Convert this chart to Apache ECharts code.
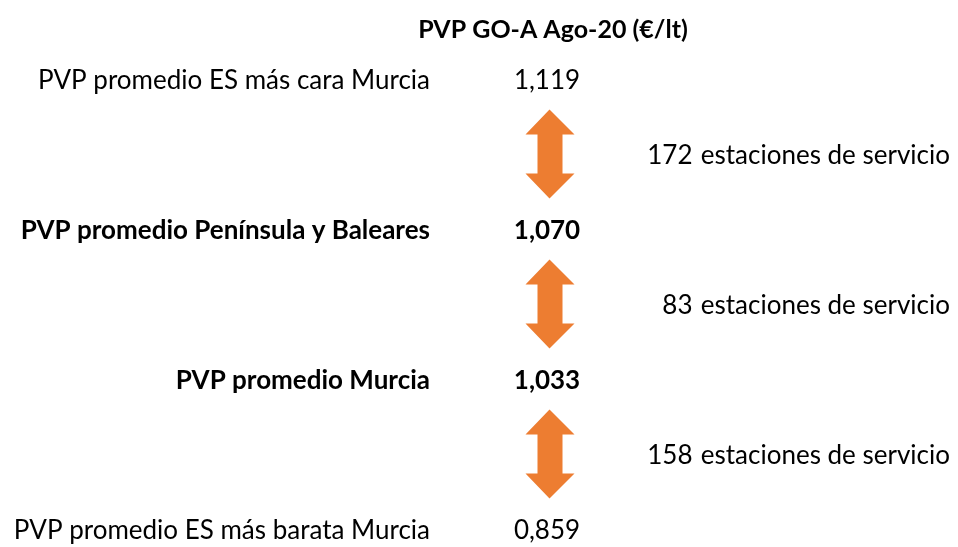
<!DOCTYPE html>
<html>
<head>
<meta charset="utf-8">
<script src="https://cdn.jsdelivr.net/npm/echarts@6/dist/echarts.min.js"></script>
<style>
html,body{margin:0;padding:0;background:#fff;}
#c{width:958px;height:547px;}
</style>
</head>
<body>
<div id="c"></div>
<script>
// ---- data ----
const chartTitle = 'PVP GO-A Ago-20 (€/lt)';
const rowLabels = [
  'PVP promedio ES más cara Murcia',
  'PVP promedio Península y Baleares',
  'PVP promedio Murcia',
  'PVP promedio ES más barata Murcia'
];
const rowBold = [false, true, true, false];
const prices = [1.119, 1.070, 1.033, 0.859];
const stations = [172, 83, 158];
const stationSuffix = 'estaciones de servicio';

// ---- layout (column anchors on a 0..958 x scale) ----
const COL_LABEL = 430, COL_VALUE = 547, COL_ARROW = 550, COL_STATIONS = 950;
const FONT = 'Lato';
const FS = 26;

const arrowPath = 'path://M24,0 L49,25 L37,25 L37,64 L49,64 L24,89 L0,64 L12,64 L12,25 L0,25 Z';

function txt(bold) {
  return { fontWeight: bold ? 'bold' : 'normal', color: '#000000', opacity: 1,
    textBorderWidth: 0, fontFamily: FONT, fontSize: FS };
}

const labelData = rowLabels.map((t, i) => ({
  value: [COL_LABEL, i], name: t, label: txt(rowBold[i])
}));
const valueData = prices.map((v, i) => ({
  value: [COL_VALUE, i], name: v.toFixed(3).replace('.', ','), label: txt(rowBold[i])
}));
const arrowData = stations.map((s, i) => [COL_ARROW, i + 0.5]);
const stationData = stations.map((s, i) => ({
  value: [COL_STATIONS, i + 0.5], name: s + ' \u200A' + stationSuffix, label: txt(false)
}));

const chart = echarts.init(document.getElementById('c'), null, { renderer: 'canvas' });
chart.setOption({
  backgroundColor: '#ffffff',
  animation: false,
  title: {
    text: chartTitle, left: 548, top: 12, textAlign: 'center',
    textStyle: { fontFamily: FONT, fontSize: 25, fontWeight: 'bold', color: '#000' }
  },
  grid: { left: 0, right: 0, top: 81, bottom: 16 },
  xAxis: { type: 'value', min: 0, max: 958, show: false },
  yAxis: { type: 'value', min: 0, max: 3, inverse: true, show: false },
  series: [
    {
      type: 'scatter', data: labelData, symbolSize: 0, silent: true,
      label: { show: true, position: 'inside', align: 'right', verticalAlign: 'middle',
        formatter: p => p.name, fontFamily: FONT, fontSize: FS, color: '#000' }
    },
    {
      type: 'scatter', data: valueData, symbolSize: 0, silent: true,
      label: { show: true, position: 'inside', align: 'center', verticalAlign: 'middle',
        formatter: p => p.name, fontFamily: FONT, fontSize: FS, color: '#000' }
    },
    {
      type: 'scatter', data: arrowData, symbol: arrowPath, symbolSize: [49, 89],
      symbolOffset: [0, -2], silent: true,
      itemStyle: { color: '#ED7D31', opacity: 1 }
    },
    {
      type: 'scatter', data: stationData, symbolSize: 0, silent: true,
      label: { show: true, position: 'inside', align: 'right', verticalAlign: 'middle',
        formatter: p => p.name, fontFamily: FONT, fontSize: FS, color: '#000' }
    }
  ]
});
</script>
</body>
</html>
